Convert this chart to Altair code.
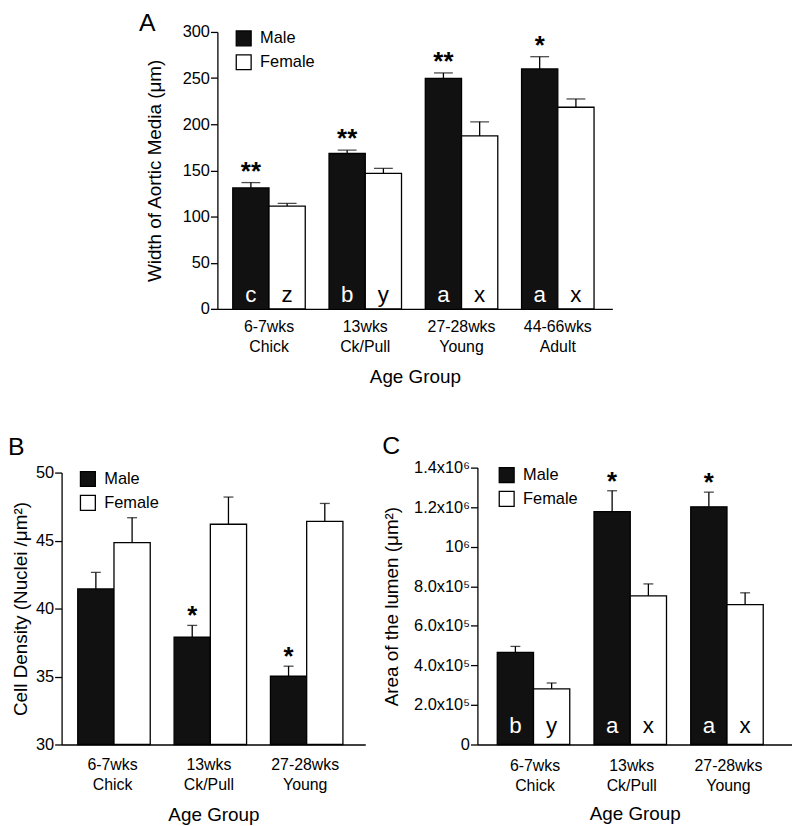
import altair as alt
import pandas as pd

FONT = "Liberation Sans"

# ---------------- data ----------------
groups_a = ["6-7wks|Chick", "13wks|Ck/Pull", "27-28wks|Young", "44-66wks|Adult"]
male_a = [131.0, 168.3, 249.6, 259.9]
male_a_err = [136.8, 171.9, 255.6, 273.2]
female_a = [111.3, 146.8, 187.3, 218.4]
female_a_err = [114.2, 152.2, 202.6, 227.4]
letters_a_m = ["c", "b", "a", "a"]
letters_a_f = ["z", "y", "x", "x"]
stars_a = ["**", "**", "**", "*"]

groups_bc = ["6-7wks|Chick", "13wks|Ck/Pull", "27-28wks|Young"]
male_b = [41.44, 37.9, 35.02]
male_b_err = [42.66, 38.76, 35.76]
female_b = [44.85, 46.2, 46.41]
female_b_err = [46.68, 48.2, 47.73]
letters_b_m = ["", "", ""]
letters_b_f = ["", "", ""]
stars_b = ["", "*", "*"]

male_c = [466000, 1177000, 1202000]
male_c_err = [496000, 1283000, 1276000]
female_c = [281000, 752000, 707000]
female_c_err = [311000, 812000, 767000]
letters_c_m = ["b", "a", "a"]
letters_c_f = ["y", "x", "x"]
stars_c = ["", "*", "*"]

ticks_a = [0, 50, 100, 150, 200, 250, 300]
ticks_b = [30, 35, 40, 45, 50]
ticks_c = [0, 200000, 400000, 600000, 800000, 1000000, 1200000, 1400000]
SEXES = ["Male", "Female"]


def make_df(groups, m, me, f, fe, lm, lf, stars):
    rows = []
    for i, g in enumerate(groups):
        rows.append(dict(group=g, sex="Male", mean=m[i], upper=me[i], letter=lm[i], star=stars[i]))
        rows.append(dict(group=g, sex="Female", mean=f[i], upper=fe[i], letter=lf[i], star=""))
    return pd.DataFrame(rows)


def panel(df, groups, *, title, title_dx, title_offset, width, height, pin, pout, align,
          ydom, yrange, yticks, ytitle, ytitle_pad, ylabel_expr=None, cap, legx, legy,
          xlabpad, xtitlepad, letter_dy, star_dy):
    x = alt.X("group:N", sort=groups,
              scale=alt.Scale(domain=groups, paddingInner=pin, paddingOuter=pout, align=align),
              axis=alt.Axis(title="Age Group", labelExpr="split(datum.label, '|')", labelAngle=0,
                            ticks=False, labelPadding=xlabpad, titlePadding=xtitlepad,
                            labelFontSize=16, labelLineHeight=20, titleFontSize=19,
                            labelBaseline="top"))
    xoff = alt.XOffset("sex:N", sort=SEXES,
                       scale=alt.Scale(domain=SEXES, paddingInner=0, paddingOuter=0))
    axis_kw = dict(values=yticks, title=ytitle, titlePadding=ytitle_pad, tickSize=7,
                   labelPadding=1, labelFontSize=16.5, titleFontSize=19, labelOverlap=False,
                   labelSeparation=0, labelBound=False, tickCount=len(yticks))
    if ylabel_expr:
        axis_kw["labelExpr"] = ylabel_expr
    yaxis = alt.Axis(**axis_kw)
    yscale = alt.Scale(domain=ydom, range=yrange, zero=False, nice=False)
    base = alt.Chart(df)
    bars = base.mark_bar(stroke="black", strokeWidth=1.3).encode(
        x=x, xOffset=xoff,
        y=alt.Y("mean:Q", scale=yscale, axis=yaxis),
        y2=alt.datum(ydom[0]),
        color=alt.Color("sex:N", sort=SEXES,
                        scale=alt.Scale(domain=SEXES, range=["#111111", "white"]),
                        legend=alt.Legend(title=None, orient="none", legendX=legx, legendY=legy,
                                          direction="vertical", symbolType="square",
                                          symbolSize=225, symbolStrokeColor="black",
                                          symbolStrokeWidth=1.3, symbolOpacity=1,
                                          labelFontSize=16.5, labelFont=FONT,
                                          labelColor="black", rowPadding=3, labelOffset=8,
                                          padding=0)),
    )
    rule = base.mark_rule(color="black", strokeWidth=1.3).encode(
        x=x, xOffset=xoff, y=alt.Y("mean:Q", scale=yscale, axis=yaxis), y2="upper:Q")
    capm = base.mark_tick(color="black", thickness=1.3, size=cap).encode(
        x=x, xOffset=xoff, y=alt.Y("upper:Q", scale=yscale, axis=yaxis))
    letters = base.transform_filter("datum.letter != ''").mark_text(
        font=FONT, fontSize=22.5, baseline="alphabetic", dy=letter_dy).encode(
        x=x, xOffset=xoff, y=alt.datum(ydom[0]), text="letter:N",
        color=alt.condition("datum.sex == 'Male'", alt.value("white"), alt.value("black")))
    stars = base.transform_filter("datum.star != ''").mark_text(
        font=FONT, fontSize=26, fontWeight="bold", baseline="alphabetic", dy=star_dy,
        color="black").encode(
        x=x, xOffset=xoff, y=alt.Y("upper:Q", scale=yscale, axis=yaxis), text="star:N")
    return alt.layer(bars, rule, capm, letters, stars).properties(
        width=width, height=height,
        title=alt.TitleParams(text=title, anchor="start", frame="group", dx=title_dx,
                              offset=title_offset, fontSize=25, font=FONT,
                              fontWeight="normal", color="black"))


df_a = make_df(groups_a, male_a, male_a_err, female_a, female_a_err, letters_a_m, letters_a_f, stars_a)
df_b = make_df(groups_bc, male_b, male_b_err, female_b, female_b_err, letters_b_m, letters_b_f, stars_b)
df_c = make_df(groups_bc, male_c, male_c_err, female_c, female_c_err, letters_c_m, letters_c_f, stars_c)

chart_a = panel(df_a, groups_a, title="A", title_dx=-79, title_offset=-12, width=398, height=279,
                pin=0.247, pout=0.175, align=0.456, ydom=[0, 300], yrange=[279, 0], yticks=ticks_a,
                ytitle="Width of Aortic Media (μm)", ytitle_pad=18, cap=19, legx=18, legy=-2,
                xlabpad=9.5, xtitlepad=14, letter_dy=-7, star_dy=-3)
chart_b = panel(df_b, groups_bc, title="B", title_dx=-54, title_offset=5, width=306, height=279,
                pin=0.278, pout=0.215, align=0.39, ydom=[30, 50], yrange=[279, 5], yticks=ticks_b,
                ytitle="Cell Density (Nuclei /μm²)", ytitle_pad=5, cap=10, legx=18, legy=3,
                xlabpad=12, xtitlepad=14, letter_dy=-12, star_dy=-1)
chart_c = panel(df_c, groups_bc, title="C", title_dx=-96, title_offset=1, width=317, height=279,
                pin=0.22, pout=0.236, align=0.435, ydom=[0, 1400000], yrange=[279, 0], yticks=ticks_c,
                ytitle="Area of the lumen (μm²)", ytitle_pad=12,
                ylabel_expr="datum.value == 0 ? '0' : datum.value == 1000000 ? '10⁶' : datum.value < 1000000 ? format(datum.value/100000, '.1f') + 'x10⁵' : format(datum.value/1000000, '.1f') + 'x10⁶'",
                cap=10, legx=21, legy=-1, xlabpad=13, xtitlepad=12, letter_dy=-12, star_dy=-1)

spacer = alt.Chart(pd.DataFrame({"s": [0]})).mark_point(opacity=0, size=1).encode(
    x=alt.X("s:Q", axis=None), y=alt.Y("s:Q", axis=None)).properties(width=78, height=10)

row_a = alt.hconcat(spacer, chart_a, spacing=0).resolve_scale(color="independent")
row_bc = alt.hconcat(chart_b, chart_c, spacing=17).resolve_scale(color="independent")

chart = alt.vconcat(row_a, row_bc, spacing=47).resolve_scale(
    color="independent"
).properties(padding=0).configure_view(
    stroke=None
).configure_axis(
    labelFont=FONT, titleFont=FONT, labelColor="black", titleColor="black",
    domainColor="black", tickColor="black", domainWidth=1.3, tickWidth=1.3,
    grid=False, titleFontWeight="normal", labelOverlap=False
)

chart.save("out.html", embed_options={"renderer": "svg", "actions": False})
